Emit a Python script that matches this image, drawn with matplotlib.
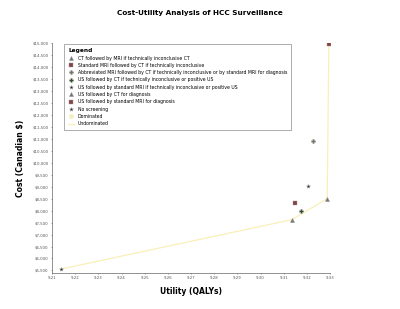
import matplotlib.pyplot as plt
import numpy as np

# Strategies (utility in QALYs, cost in CAD)
strategies = ['CT followed by MRI if technically inconclusive CT',
              'Standard MRI followed by CT if technically inconclusive',
              'Abbreviated MRI followed by CT if technically inconclusive or by standard MRI for diagnosis',
              'US followed by CT if technically inconclusive or positive US',
              'US followed by standard MRI if technically inconclusive or positive US',
              'US followed by CT for diagnosis',
              'US followed by standard MRI for diagnosis',
              'No screening']
utility = [9.3288, 9.3295, 9.3225, 9.3175, 9.3205, 9.3135, 9.3148, 9.2140]
cost = [8500, 14950, 10900, 8000, 9040, 7620, 8330, 5560]
markers = ['^', 's', 'P', 'P', '*', '^', 's', '*']
colors = ['#707070', '#8a4040', '#6e7a66', '#2f4a2f', '#222222', '#707070', '#8a4040', '#222222']

# Efficient frontier (undominated)
front_u = [9.2140, 9.3135, 9.3288, 9.3295]
front_c = [5560, 7620, 8500, 14950]

xticks = np.round(np.arange(9.21, 9.3301, 0.01), 2)
yticks = np.arange(5500, 15001, 500)

fig = plt.figure(figsize=(4, 3.09), dpi=100)
ax = fig.add_axes([0.13, 0.117, 0.695, 0.744])

ax.plot(front_u, front_c, color='#f8f0b8', lw=0.9, label='Undominated', zorder=1)
for k in range(len(strategies)):
    ax.plot(utility[k], cost[k], linestyle='none', marker=markers[k], ms=3,
            color=colors[k], mec='#999999', mew=0.3, label=strategies[k], zorder=3)
ax.plot([], [], linestyle='none', marker='o', ms=2.5, color='#f5eec0', label='Dominated')

# reorder legend so Undominated is last
h, l = ax.get_legend_handles_labels()
h = h[1:] + h[:1]
l = l[1:] + l[:1]
leg = ax.legend(h, l, loc='upper left', bbox_to_anchor=(0.036, 1.005), fontsize=3.3,
                title='Legend', title_fontsize=4.2, frameon=True, fancybox=False,
                edgecolor='#888888', handlelength=1.2, labelspacing=0.5,
                borderpad=0.9, alignment='left')
leg.get_title().set_fontweight('bold')
leg.get_frame().set_linewidth(0.6)

ax.set_xlim(9.21, 9.33)
ax.set_ylim(5400, 15000)
ax.set_xticks(xticks)
ax.set_xticklabels(['%.2f' % v for v in xticks])
ax.set_yticks(yticks)
ax.set_yticklabels(['${:,}'.format(v) for v in yticks])
ax.tick_params(labelsize=2.8, length=1, width=0.4, colors='#555555', pad=1.5)
for s in ['top', 'right']:
    ax.spines[s].set_visible(False)
for s in ['left', 'bottom']:
    ax.spines[s].set_linewidth(0.5)
    ax.spines[s].set_color('#666666')

ax.set_xlabel('Utility (QALYs)', fontsize=5.5, fontweight='bold', labelpad=5)
ax.set_ylabel('Cost (Canadian $)', fontsize=5.5, fontweight='bold', labelpad=5)
fig.text(0.5, 0.958, 'Cost-Utility Analysis of HCC Surveillance', ha='center',
         va='center', fontsize=5.2, fontweight='bold')

fig.savefig('out.png', dpi=100)
